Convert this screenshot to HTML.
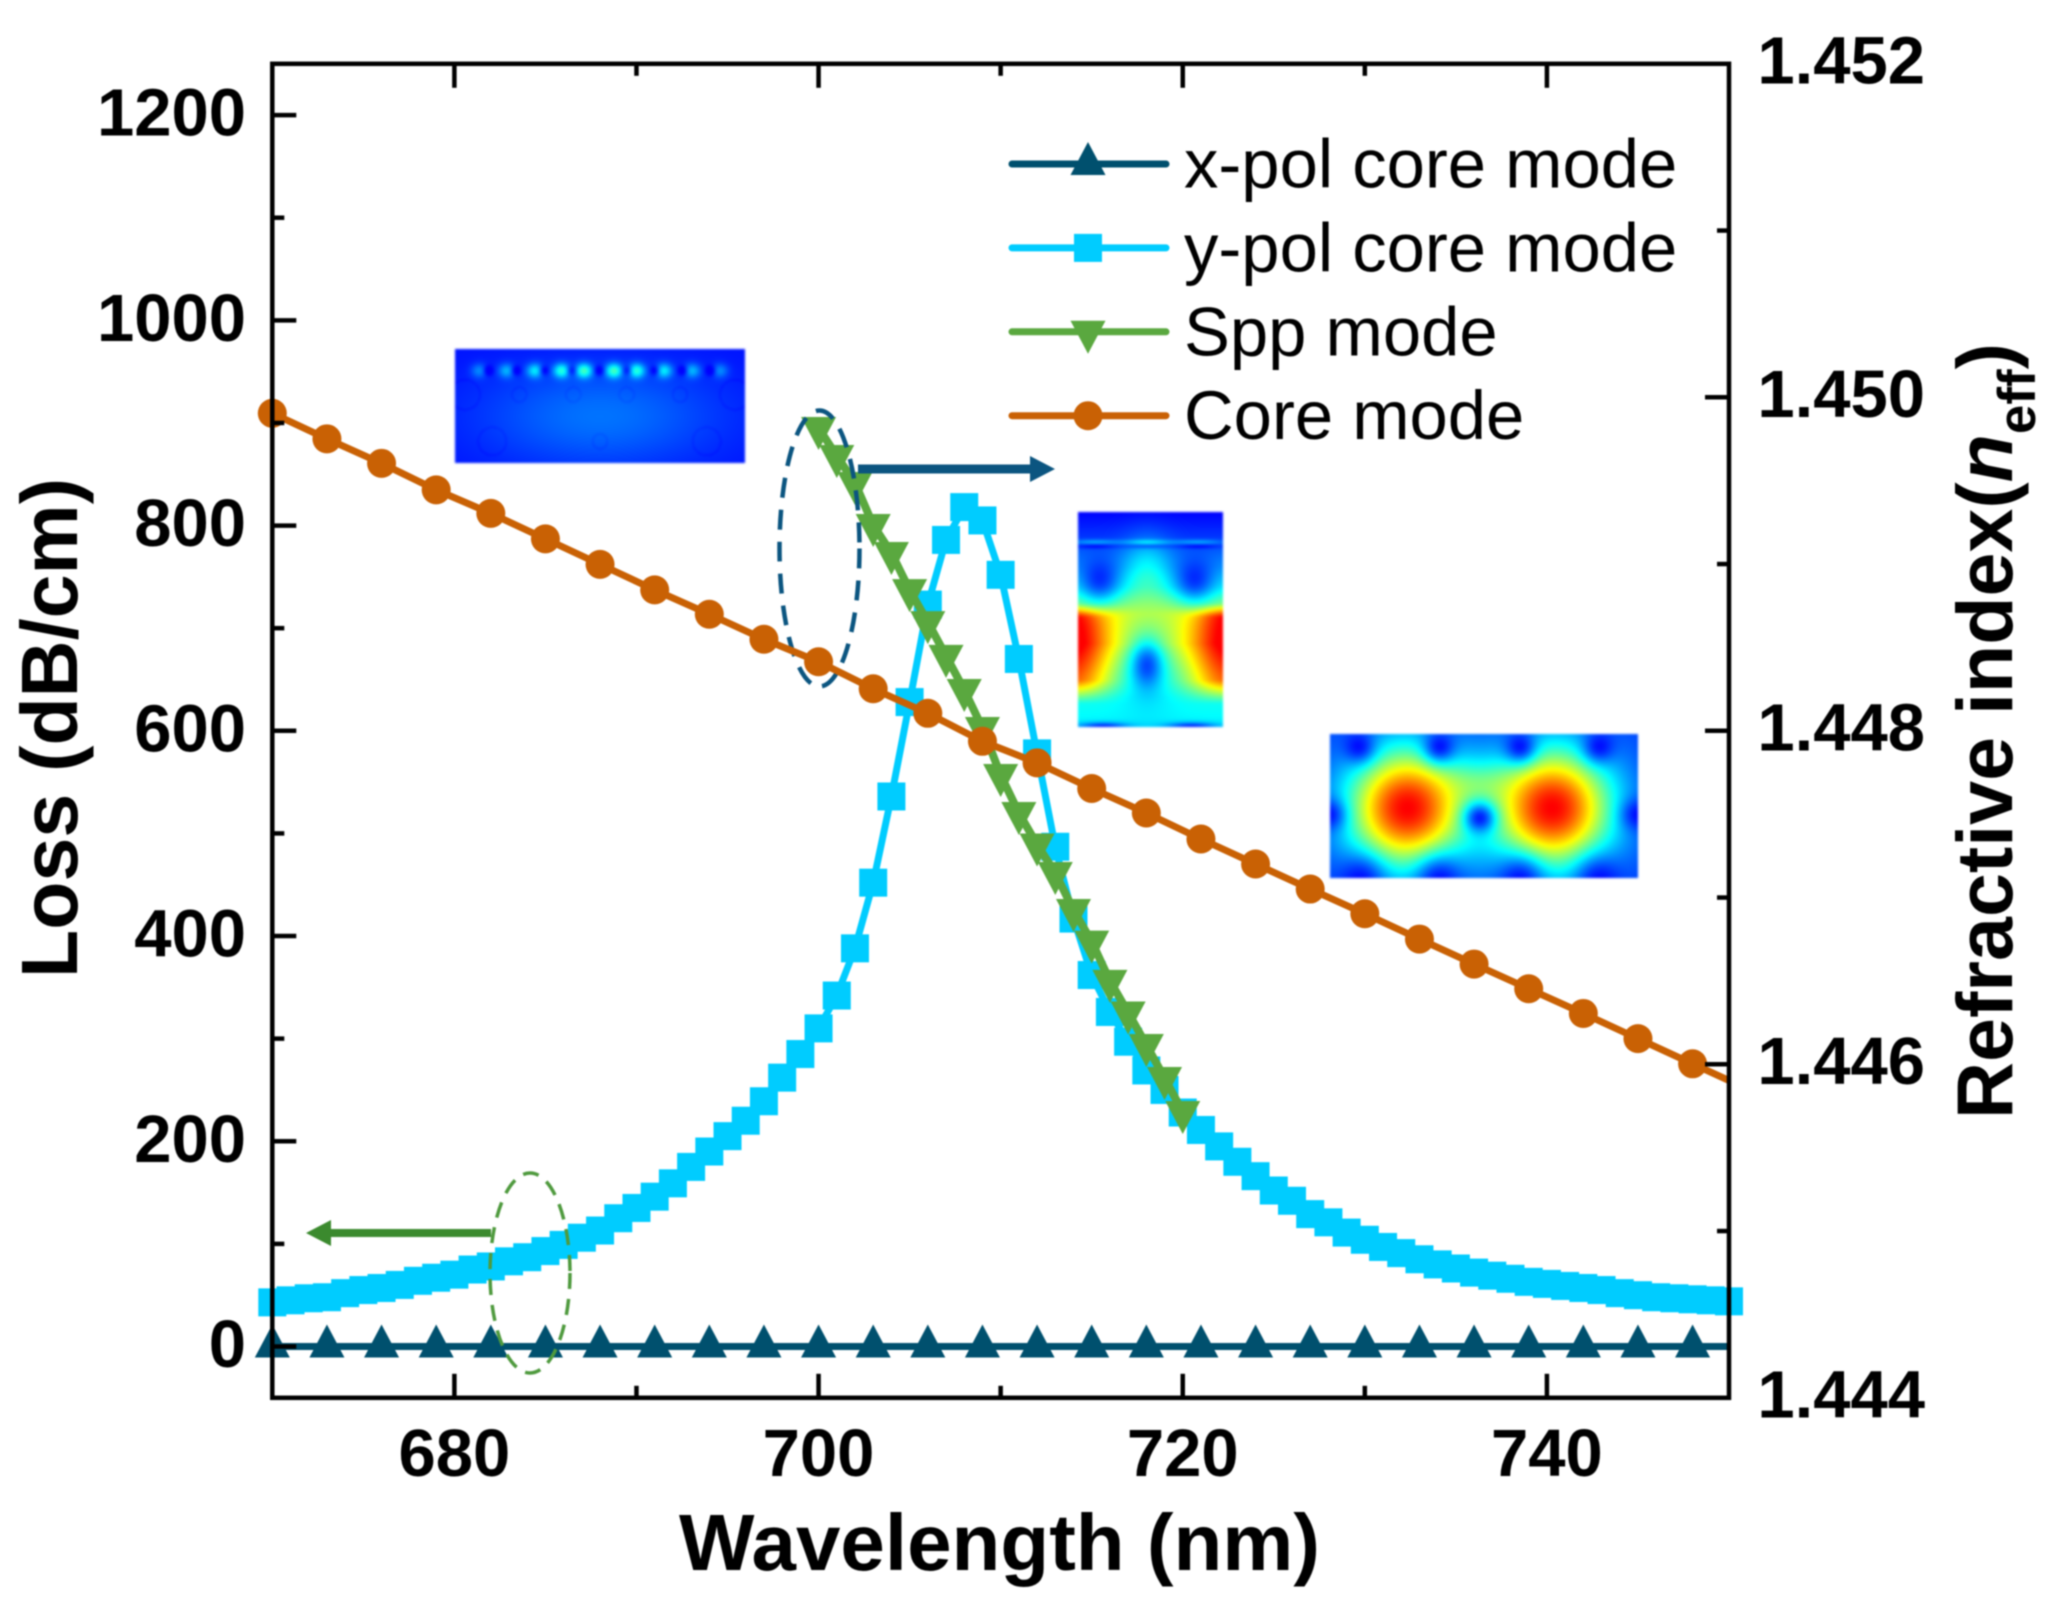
<!DOCTYPE html>
<html lang="en">
<head>
<meta charset="utf-8">
<title>Loss and refractive index versus wavelength</title>
<style>
html,body{margin:0;padding:0;background:#fff;width:2051px;height:1622px;overflow:hidden}
#stage{position:relative;width:2051px;height:1622px}
canvas{position:absolute;filter:blur(1.2px)}
svg{position:absolute;left:0;top:0;filter:blur(.9px)}
text{font-family:"Liberation Sans",Arial,sans-serif;fill:#000}
.b{font-weight:700}
</style>
</head>
<body>
<div id="stage">
<canvas id="insetA" width="290" height="114" style="left:455px;top:349px"></canvas>
<canvas id="insetB" width="145" height="215" style="left:1078px;top:512px"></canvas>
<canvas id="insetC" width="308" height="144" style="left:1330px;top:734px"></canvas>
<svg id="chart" width="2051" height="1622" viewBox="0 0 2051 1622" xmlns="http://www.w3.org/2000/svg">
  <defs><clipPath id="plotClip"><rect x="272.3" y="63.8" width="1456.7" height="1334"/></clipPath></defs>
  <g id="marks"></g>
  <g id="axes"></g>
  <rect x="272.3" y="63.8" width="1456.7" height="1334" fill="none" stroke="#000" stroke-width="4.5"/>
  <text class="b" x="679" y="1570" font-size="80" textLength="641" lengthAdjust="spacingAndGlyphs">Wavelength (nm)</text>
  <text class="b" transform="translate(77,978) rotate(-90)" font-size="80" textLength="500" lengthAdjust="spacingAndGlyphs">Loss (dB/cm)</text>
  <text class="b" transform="translate(2012,1119) rotate(-90)" font-size="79">Refractive index(<tspan font-style="italic">n</tspan><tspan font-size="53" dy="23">eff</tspan><tspan dy="-23">)</tspan></text>
  <g id="legend"></g>
</svg>
</div>
<script>
const coreWavelengths=[670,673,676,679,682,685,688,691,694,697,700,703,706,709,712,715,718,721,724,727,730,733,736,739,742,745,748,751];
const xpolLoss=[0,0,0,0,0,0,0,0,0,0,0,0,0,0,0,0,0,0,0,0,0,0,0,0,0,0,0,0];
const coreIndex=[1.449904,1.449751,1.449604,1.449445,1.449304,1.449151,1.448998,1.448845,1.448699,1.448549,1.448414,1.448252,1.448105,1.447937,1.447808,1.447654,1.447507,1.447351,1.447201,1.447051,1.446903,1.446751,1.446601,1.446453,1.446305,1.446154,1.446003,1.445853];
const ypolWavelengths=[670,671,672,673,674,675,676,677,678,679,680,681,682,683,684,685,686,687,688,689,690,691,692,693,694,695,696,697,698,699,700,701,702,703,704,705,706,707,708,709,710,711,712,713,714,715,716,717,718,719,720,721,722,723,724,725,726,727,728,729,730,731,732,733,734,735,736,737,738,739,740,741,742,743,744,745,746,747,748,749,750];
const ypolLoss=[43,45,47,48,52,55,57,60,64,67,70,75,78,83,87,93,99,106,113,125,135,146,159,175,190,205,220,239,262,285,310,342,388,452,536,628,723,786,818,805,752,670,578,487,417,362,326,297,269,250,228,211,195,180,166,152,142,129,121,111,104,97,91,85,80,76,72,69,66,63,61,59,57,55,52,50,48,47,46,45,44];
const sppWavelengths=[700,701,702,703,704,705,706,707,708,709,710,711,712,713,714,715,716,717,718,719,720];
const sppIndex=[1.449816,1.449648,1.449486,1.449234,1.449066,1.448844,1.448652,1.448449,1.448245,1.448017,1.447735,1.447507,1.447318,1.447147,1.446925,1.446736,1.4465,1.446311,1.446116,1.445918,1.445714];
const xTickLabels=[680,700,720,740];
const xMinorTicks=[690,710,730];
const lossTickLabels=[0,200,400,600,800,1000,1200];
const lossMinorTicks=[100,300,500,700,900,1100];
const indexTickLabels=["1.444","1.446","1.448","1.450","1.452"];
const indexMinorTicks=[1.445,1.447,1.449,1.451];
const legendLabels=["x-pol core mode","y-pol core mode","Spp mode","Core mode"];

const PL=272.3,PR=1729,PT=63.8,PB=1397.8;
const X_MIN=670,X_MAX=750,LOSS_MIN=-50,LOSS_MAX=1250,N_MIN=1.444,N_MAX=1.452;
const COL={xpol:'#00506e',ypol:'#00ccff',spp:'#5aa83f',core:'#c96104',blue:'#0b5580',green:'#3b8a2e',greenDash:'#4f9a3e'};
const xScale=v=>PL+(v-X_MIN)/(X_MAX-X_MIN)*(PR-PL);
const lossScale=v=>PB-(v-LOSS_MIN)/(LOSS_MAX-LOSS_MIN)*(PB-PT);
const indexScale=v=>PB-(v-N_MIN)/(N_MAX-N_MIN)*(PB-PT);
const NS='http://www.w3.org/2000/svg';
const marks=document.getElementById('marks');
const axes=document.getElementById('axes');
const legend=document.getElementById('legend');
function mk(tag,attrs,parent){
  const e=document.createElementNS(NS,tag);
  for(const k in attrs)e.setAttribute(k,attrs[k]);
  parent.appendChild(e);
  return e;
}
function linePath(xs,ys,color,width,parent){
  const pts=xs.map((v,i)=>xScale(v).toFixed(2)+','+ys[i].toFixed(2)).join(' ');
  return mk('polyline',{points:pts,fill:'none',stroke:color,'stroke-width':width,'stroke-linejoin':'round','clip-path':'url(#plotClip)'},parent);
}
function triUp(cx,cy,color,parent){
  return mk('polygon',{points:(cx-17.5)+','+(cy+11)+' '+(cx+17.5)+','+(cy+11)+' '+cx+','+(cy-22),fill:color},parent);
}
function triDown(cx,cy,color,parent){
  return mk('polygon',{points:(cx-17.5)+','+(cy-11)+' '+(cx+17.5)+','+(cy-11)+' '+cx+','+(cy+22),fill:color},parent);
}
function square(cx,cy,color,parent){
  return mk('rect',{x:cx-14,y:cy-14,width:28,height:28,fill:color},parent);
}
function circle(cx,cy,color,parent){
  return mk('circle',{cx:cx,cy:cy,r:14.5,fill:color},parent);
}

/* x-pol series */
const xpolLine=linePath(coreWavelengths,xpolLoss.map(lossScale),COL.xpol,7,marks);


coreWavelengths.forEach((w,i)=>{
  if(w>X_MAX)return;
  const m=triUp(xScale(w),lossScale(xpolLoss[i]),COL.xpol,marks);
  
  
});

/* y-pol series */
const ypolLine=linePath(ypolWavelengths,ypolLoss.map(lossScale),COL.ypol,7,marks);


ypolWavelengths.forEach((w,i)=>{
  const m=square(xScale(w),lossScale(ypolLoss[i]),COL.ypol,marks);
  
  
});

/* Spp series */
const sppLine=linePath(sppWavelengths,sppIndex.map(indexScale),COL.spp,8,marks);


sppWavelengths.forEach((w,i)=>{
  const m=triDown(xScale(w),indexScale(sppIndex[i]),COL.spp,marks);
  
  
});

/* annotation ellipses and arrows */
const blueEllipse=mk('ellipse',{cx:819.5,cy:548.5,rx:40,ry:138,fill:'none',stroke:COL.blue,'stroke-width':4.5,'stroke-dasharray':'20 12'},marks);


const greenEllipse=mk('ellipse',{cx:530,cy:1273,rx:40,ry:100,fill:'none',stroke:COL.greenDash,'stroke-width':3.5,'stroke-dasharray':'16 10'},marks);


const blueArrowShaft=mk('line',{x1:858,y1:469,x2:1034,y2:469,stroke:COL.blue,'stroke-width':9},marks);


const blueArrowHead=mk('polygon',{points:'1030,456 1055,469 1030,482',fill:COL.blue},marks);


const greenArrowShaft=mk('line',{x1:491,y1:1233,x2:326,y2:1233,stroke:COL.green,'stroke-width':8},marks);


const greenArrowHead=mk('polygon',{points:'331,1220 306,1233 331,1246',fill:COL.green},marks);



/* Core series */
const coreLine=linePath(coreWavelengths,coreIndex.map(indexScale),COL.core,7,marks);


coreWavelengths.forEach((w,i)=>{
  if(w>X_MAX)return;
  const m=circle(xScale(w),indexScale(coreIndex[i]),COL.core,marks);
  
  
});

/* ticks */
function tick(x1,y1,x2,y2,name){
  const t=mk('line',{x1:x1,y1:y1,x2:x2,y2:y2,stroke:'#000','stroke-width':4.5},axes);
  
  
}
xTickLabels.forEach(v=>{
  const x=xScale(v);
  tick(x,PB,x,PB-24,'x-major-tick');
  tick(x,PT,x,PT+24,'top-major-tick');
  const t=mk('text',{x:x,y:1476,'font-size':67,'text-anchor':'middle',class:'b'},axes);
  t.textContent=v;
  
  
});
xMinorTicks.forEach(v=>{
  const x=xScale(v);
  tick(x,PB,x,PB-12,'x-minor-tick');
  tick(x,PT,x,PT+12,'top-minor-tick');
});
lossTickLabels.forEach(v=>{
  const y=lossScale(v);
  tick(PL,y,PL+24,y,'left-major-tick');
  const t=mk('text',{x:246,y:y+20.5,'font-size':67,'text-anchor':'end',class:'b'},axes);
  t.textContent=v;
  
  
});
lossMinorTicks.forEach(v=>{
  const y=lossScale(v);
  tick(PL,y,PL+12,y,'left-minor-tick');
});
indexTickLabels.forEach(v=>{
  const y=indexScale(parseFloat(v));
  if(y>PT+1&&y<PB-1)tick(PR,y,PR-24,y,'right-major-tick');
  const t=mk('text',{x:1925,y:y+19.5,'font-size':67,'text-anchor':'end',class:'b'},axes);
  t.textContent=v;
  
  
});
indexMinorTicks.forEach(v=>{
  const y=indexScale(v);
  tick(PR,y,PR-12,y,'right-minor-tick');
});

/* legend */
const legendColors=[COL.xpol,COL.ypol,COL.spp,COL.core];
const legendMarkers=[triUp,square,triDown,circle];
legendLabels.forEach((label,i)=>{
  const y=164+i*83.9;
  const l=mk('line',{x1:1012,y1:y,x2:1166,y2:y,stroke:legendColors[i],'stroke-width':7,'stroke-linecap':'round'},legend);
  
  
  const m=legendMarkers[i](1088,y,legendColors[i],legend);
  
  
  const t=mk('text',{x:1184,y:y+23.5,'font-size':68.8},legend);
  t.textContent=label;
  
  
});

/* field-map insets */
const clamp=v=>Math.max(0,Math.min(1,v));
function jet(v){
  const t=.125+.75*clamp(v);
  return [clamp(1.5-Math.abs(4*t-3))*255,clamp(1.5-Math.abs(4*t-2))*255,clamp(1.5-Math.abs(4*t-1))*255];
}
const g2=(x,y,cx,cy,sx,sy)=>Math.exp(-((x-cx)*(x-cx)/(2*sx*sx)+(y-cy)*(y-cy)/(2*sy*sy)));
function paint(id,zx,zy,zw,zh,field){
  const c=document.getElementById(id),ctx=c.getContext('2d'),img=ctx.createImageData(c.width,c.height);
  for(let j=0;j<c.height;j++)for(let i=0;i<c.width;i++){
    const x=zx+(i+.5)/c.width*zw,y=zy+(j+.5)/c.height*zh,col=jet(field(x,y)),p=(j*c.width+i)*4;
    img.data[p]=col[0];img.data[p+1]=col[1];img.data[p+2]=col[2];img.data[p+3]=255;
  }
  ctx.putImageData(img,0,0);
}
const bright=[118,200,285,365,432,522,590,672,757,840];
const dark=[145,228,312,395,478,562,645,728,812];
const rings=[[75,165,45],[238,165,22],[400,165,22],[560,165,22],[720,165,22],[885,165,45],[157,305,42],[480,305,22],[800,305,42]];
paint('insetA',45,28,870,342,(x,y)=>{
  let v=.02+.13*g2(x,y,480,230,260,110);
  for(const b of bright){
    const amp=.1+.26*Math.exp(-(b-480)*(b-480)/(2*190*190));
    v+=amp*g2(x,y,b,93,17,15);
  }
  for(const d of dark)v-=.14*g2(x,y,d,93,10,10);
  for(const r of rings){
    const dist=Math.hypot(x-r[0],y-r[1]);
    if(Math.abs(dist-r[2])<3)v-=.02;
  }
  return v;
});
const baseY=[[35,0],[120,.08],[200,.2],[260,.33],[310,.5],[340,.58],[430,.6],[520,.46],[590,.36],[650,.33],[680,.3]];
function baseB(y){
  for(let k=1;k<baseY.length;k++){
    if(y<=baseY[k][0]){
      const a=baseY[k-1],b=baseY[k];
      return a[1]+(b[1]-a[1])*(y-a[0])/(b[0]-a[0]);
    }
  }
  return .3;
}
paint('insetB',55,35,435,645,(x,y)=>{
  let v=baseB(y);
  const rowBand=Math.min(1,Math.max(0,(y-310)/40))*Math.min(1,Math.max(0,(610-y)/70));
  v+=.45*rowBand*(g2(x,y,40,450,78,400)+g2(x,y,505,450,78,400));
  v+=.14*g2(x,y,262,195,50,70);
  v*=1-.8*g2(x,y,120,235,42,48);
  v*=1-.8*g2(x,y,405,235,42,48);
  v*=1-.28*g2(x,y,262,495,65,90);
  v*=1-.75*g2(x,y,262,495,32,48);
  v*=1-.85*g2(x,y,130,678,50,8);
  v*=1-.85*g2(x,y,395,678,50,8);
  for(const ax of [105,262,415])v+=.14*g2(x,y,ax,125,50,5)-.1*g2(x,y,ax,138,45,4);
  return v;
});
const holesC=[[115,65,34],[360,65,34],[600,65,34],[840,65,34],[480,280,33],[25,270,34],[955,270,34],[120,468,48],[360,468,48],[600,468,48],[840,468,48]];
paint('insetC',30,28,925,432,(x,y)=>{
  let v=.08+.92*g2(x,y,262,250,122,122)+.92*g2(x,y,698,250,122,122);
  v+=.12*g2(x,y,480,170,70,45);
  for(const h of holesC)v*=1-.92*g2(x,y,h[0],h[1],h[2],h[2]);
  return v;
});
</script>
</body>
</html>
